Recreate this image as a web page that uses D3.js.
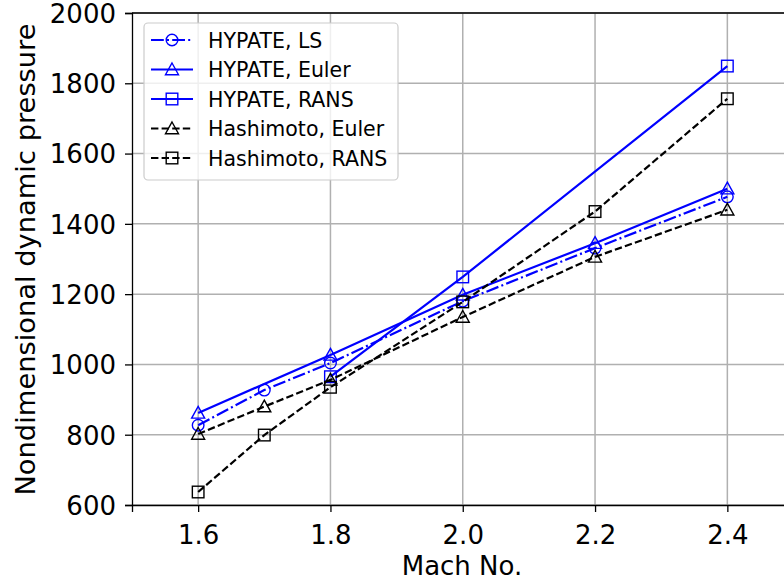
<!DOCTYPE html>
<html><head><meta charset="utf-8">
<script src="https://cdn.jsdelivr.net/npm/d3@7"></script>
<style>body{margin:0;background:#fff}svg{display:block;font-family:"DejaVu Sans",sans-serif}</style>
</head><body><svg id="c" width="784" height="582"></svg>
<script>
const xTicks = [1.6, 1.8, 2.0, 2.2, 2.4];
const yTicks = [600, 800, 1000, 1200, 1400, 1600, 1800, 2000];
const machLS = [1.6, 1.7, 1.8, 2.0, 2.2, 2.4];
const hypateLS = [827, 927, 1004, 1180, 1331, 1477];
const machEuler = [1.6, 1.8, 2.0, 2.2, 2.4];
const hypateEuler = [862, 1027, 1198, 1345, 1500];
const machRANS = [1.8, 2.0, 2.4];
const hypateRANS = [965, 1249, 1849];
const machHash = [1.6, 1.7, 1.8, 2.0, 2.2, 2.4];
const hashEuler = [802, 880, 956, 1135, 1306, 1440];
const hashRANS = [637, 799, 935, 1178, 1435, 1756];

const series = [
  {name:"HYPATE, LS", x:machLS, y:hypateLS, color:"#0000ff", dash:"12.8,3.2,2,3.2", marker:"circle"},
  {name:"HYPATE, Euler", x:machEuler, y:hypateEuler, color:"#0000ff", dash:null, marker:"triangle"},
  {name:"HYPATE, RANS", x:machRANS, y:hypateRANS, color:"#0000ff", dash:null, marker:"square"},
  {name:"Hashimoto, Euler", x:machHash, y:hashEuler, color:"#000000", dash:"7.4,3.2", marker:"triangle"},
  {name:"Hashimoto, RANS", x:machHash, y:hashRANS, color:"#000000", dash:"7.4,3.2", marker:"square"}
];

const svg = d3.select("#c");
const L = 132, R = 793.5, T = 13, B = 505;
const x = d3.scaleLinear().domain([1.5, 2.5]).range([L, R]);
const y = d3.scaleLinear().domain([600, 2000]).range([B, T]);

// grid
const g = svg.append("g");
g.selectAll(".gx").data(xTicks).join("line")
  .attr("x1", d=>x(d)).attr("x2", d=>x(d)).attr("y1", T).attr("y2", B)
  .attr("stroke", "#b0b0b0").attr("stroke-width", 1.5);
g.selectAll(".gy").data(yTicks).join("line")
  .attr("x1", L).attr("x2", R).attr("y1", d=>y(d)).attr("y2", d=>y(d))
  .attr("stroke", "#b0b0b0").attr("stroke-width", 1.5);

// axes
const xa = svg.append("g").attr("transform", `translate(0,${B})`)
  .call(d3.axisBottom(x).tickValues(xTicks).tickFormat(d3.format(".1f")).tickSizeOuter(0).tickSize(7).tickPadding(8));
const ya = svg.append("g").attr("transform", `translate(${L},0)`)
  .call(d3.axisLeft(y).tickValues(yTicks).tickFormat(d3.format("d")).tickSizeOuter(0).tickSize(7).tickPadding(9));
[xa, ya].forEach(a => {
  a.selectAll("text").attr("font-size", 26).attr("fill", "#000").attr("font-family", "DejaVu Sans");
  a.selectAll("line").attr("stroke", "#000").attr("stroke-width", 1.3);
  a.select(".domain").attr("stroke", "#000").attr("stroke-width", 1.3);
});
xa.selectAll("text").attr("dy", null).attr("y", 39);
ya.selectAll("text").attr("dy", "0.36em");
// top spine
svg.append("line").attr("x1", L).attr("x2", R).attr("y1", T).attr("y2", T).attr("stroke", "#000").attr("stroke-width", 1.3);

svg.append("text").attr("x", 462).attr("y", 575).attr("text-anchor", "middle")
  .attr("font-size", 26).text("Mach No.");
svg.append("text").attr("transform", "translate(35,259.5) rotate(-90)").attr("text-anchor", "middle")
  .attr("font-size", 27.3).text("Nondimensional dynamic pressure");

function drawMarker(sel, type, cx, cy, color) {
  if (type === "circle") {
    sel.append("circle").attr("cx", cx).attr("cy", cy).attr("r", 5.8)
      .attr("fill", "none").attr("stroke", color).attr("stroke-width", 1.4);
  } else if (type === "square") {
    sel.append("rect").attr("x", cx-5.8).attr("y", cy-5.8).attr("width", 11.6).attr("height", 11.6)
      .attr("fill", "none").attr("stroke", color).attr("stroke-width", 1.4);
  } else {
    const s = 6.5;
    sel.append("path").attr("d", `M${cx},${cy-s} L${cx+s},${cy+s*0.8} L${cx-s},${cy+s*0.8} Z`)
      .attr("fill", "none").attr("stroke", color).attr("stroke-width", 1.4);
  }
}

const line = d3.line().x(d=>x(d[0])).y(d=>y(d[1]));
series.forEach(s => {
  const pts = s.x.map((v,i)=>[v, s.y[i]]);
  const gs = svg.append("g");
  gs.append("path").attr("d", line(pts)).attr("fill", "none").attr("stroke", s.color)
    .attr("stroke-width", 2.2).attr("stroke-dasharray", s.dash);
  pts.forEach(p => drawMarker(gs, s.marker, x(p[0]), y(p[1]), s.color));
});

// legend
const lg = svg.append("g");
lg.append("rect").attr("x", 144).attr("y", 23).attr("width", 254).attr("height", 157).attr("rx", 4)
  .attr("fill", "#fff").attr("fill-opacity", 0.8).attr("stroke", "#cccccc").attr("stroke-width", 1.2);
series.forEach((s, i) => {
  const cy = 40 + i * 29.5;
  lg.append("line").attr("x1", 151).attr("x2", 193).attr("y1", cy).attr("y2", cy)
    .attr("stroke", s.color).attr("stroke-width", 2.2).attr("stroke-dasharray", s.dash);
  drawMarker(lg, s.marker, 172, cy, s.color);
  lg.append("text").attr("x", 208).attr("y", cy + 7.5).attr("font-size", 20.5).attr("fill", "#000").text(s.name);
});
</script></body></html>
